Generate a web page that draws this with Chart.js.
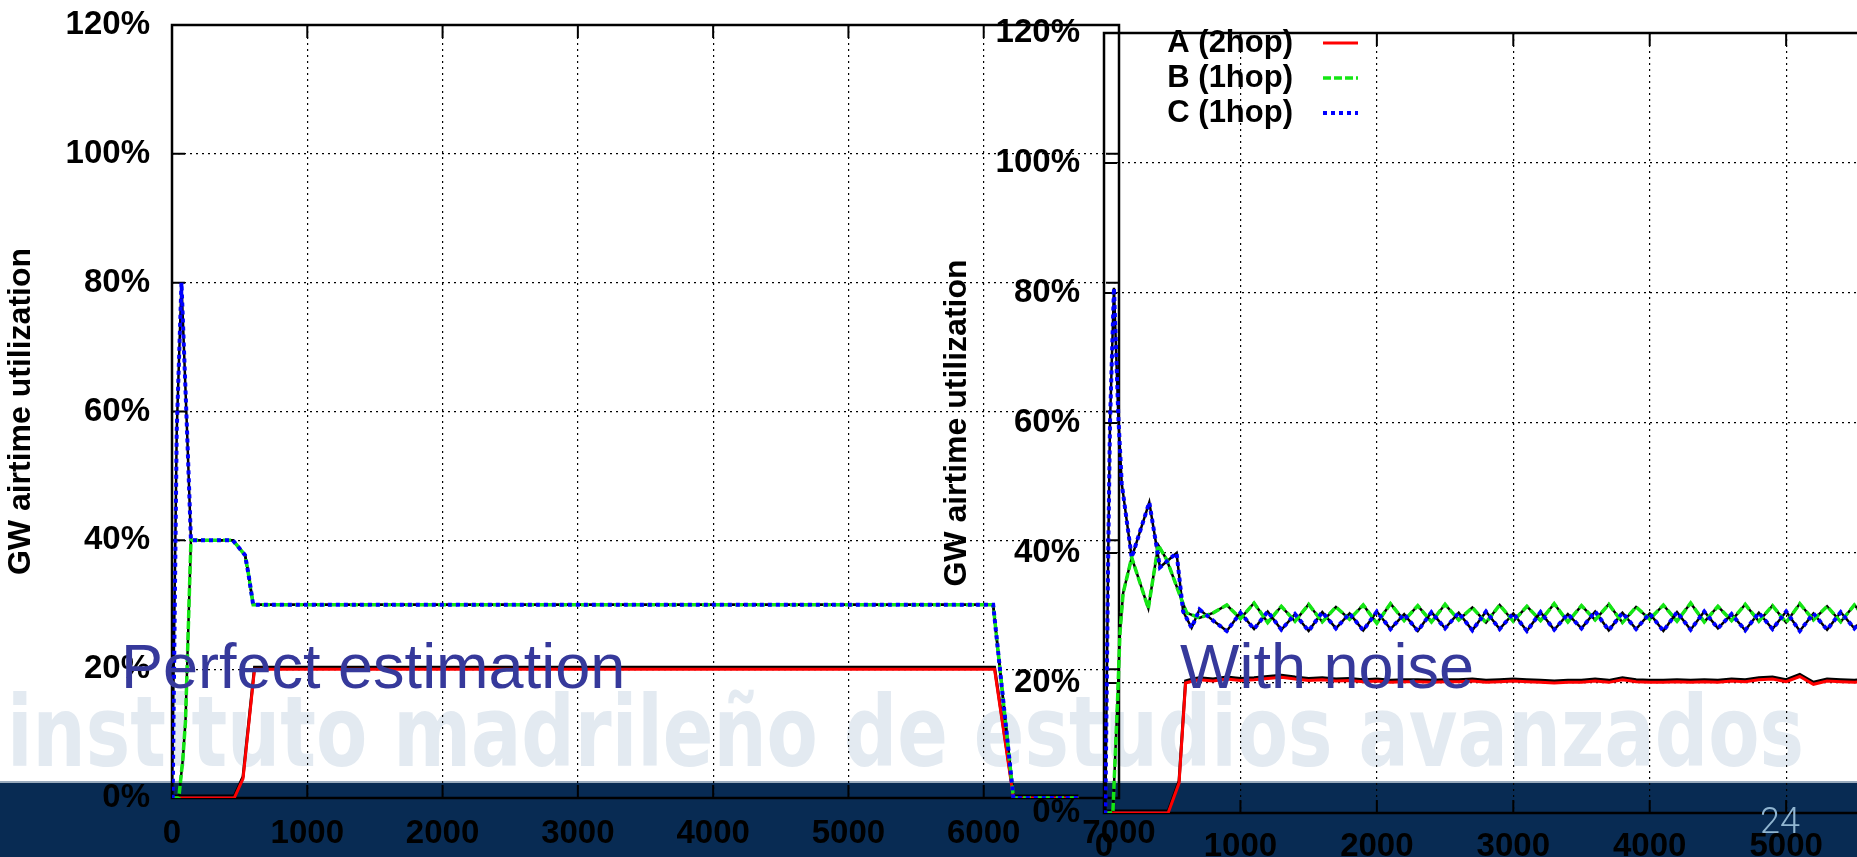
<!DOCTYPE html>
<html>
<head>
<meta charset="utf-8">
<script src="https://cdn.jsdelivr.net/npm/chart.js@4.4.0/dist/chart.umd.min.js"></script>
<style>
html,body{margin:0;padding:0;width:1857px;height:857px;overflow:hidden;background:#fff;}
body{position:relative;}
#band{position:absolute;left:0;top:781px;width:1857px;height:76px;background:#082b53;border-top:2px solid #9aabbd;box-sizing:border-box;}
#wm{position:absolute;left:7px;top:683px;font-family:"DejaVu Sans Condensed","DejaVu Sans",sans-serif;font-weight:bold;font-size:98px;line-height:1;color:#e3eaf1;white-space:nowrap;transform-origin:0 0;}
.wrap{position:absolute;top:0;height:857px;}
#w1{left:0;width:1200px;}
#w2{left:900px;width:1239px;}
.ov{position:absolute;font-family:"Liberation Sans",Arial,sans-serif;font-size:63px;line-height:1;color:#36399b;white-space:nowrap;}
#pg{position:absolute;left:1760px;top:803px;font-family:Roboto,"Liberation Sans",sans-serif;font-weight:300;font-size:36px;line-height:1;color:#90b5d0;}
</style>
</head>
<body>
<div id="wm">instituto madrileño de estudios avanzados</div>
<div id="band"></div>
<div class="wrap" id="w1"><canvas id="c1"></canvas></div>
<div class="wrap" id="w2"><canvas id="c2"></canvas></div>
<div class="ov" id="t1" style="left:121px;top:635px">Perfect estimation</div>
<div class="ov" id="t2" style="left:1180px;top:635px">With noise</div>
<div id="pg">24</div>
<script>
// ---------- labels ----------
const seriesLabels = ['A (2hop)', 'B (1hop)', 'C (1hop)'];
const yTitle = 'GW airtime utilization';
const xTickValues = [0, 1000, 2000, 3000, 4000, 5000, 6000, 7000];
const xTickLabels = ['0', '1000', '2000', '3000', '4000', '5000', '6000', '7000'];
const yTickValues = [0, 20, 40, 60, 80, 100, 120];
const yTickLabels = ['0%', '20%', '40%', '60%', '80%', '100%', '120%'];

// ---------- left chart: perfect estimation ----------
const leftTimeA = [0, 460, 525, 610, 1000, 2000, 3000, 4000, 5000, 6000, 6080, 6220, 6700];
const leftValA  = [0, 0, 3, 20, 20, 20, 20, 20, 20, 20, 20, 0, 0];
const leftTimeB = [0, 50, 80, 100, 140, 450, 540, 565, 600, 1000, 2000, 3000, 4000, 5000, 6000, 6070, 6220, 6700];
const leftValB  = [0, 0, 6, 12, 40, 40, 37.7, 34.8, 30, 30, 30, 30, 30, 30, 30, 30, 0, 0];
const leftTimeC = [0, 5, 35, 70, 113, 140, 450, 540, 565, 600, 1000, 2000, 3000, 4000, 5000, 6000, 6070, 6220, 6700];
const leftValC  = [0, 0, 57, 80, 56, 40, 40, 37.7, 34.8, 30, 30, 30, 30, 30, 30, 30, 30, 0, 0];

// ---------- right chart: with noise ----------
const rightEarlyTimeA = [0, 470, 550, 598, 650];
const rightEarlyValA  = [0, 0, 4.6, 20, 20.3];
const rightEarlyTimeB = [0, 65, 100, 117, 140, 203, 325, 398, 459, 569, 606];
const rightEarlyValB  = [0, 0, 17.7, 27.7, 33.8, 39.3, 31.5, 41.2, 39, 32.8, 30.8];
const rightEarlyTimeC = [0, 10, 31, 44, 73, 105, 130, 203, 332, 410, 532, 580, 642];
const rightEarlyValC  = [0, 0, 40, 60, 80.8, 61, 50.7, 39.3, 47.8, 37.8, 40, 31, 28.5];

const rightSteadyTime = [700,800,900,1000,1100,1200,1300,1400,1500,1600,1700,1800,1900,2000,2100,2200,2300,2400,2500,2600,2700,2800,2900,3000,3100,3200,3300,3400,3500,3600,3700,3800,3900,4000,4100,4200,4300,4400,4500,4600,4700,4800,4900,5000,5100,5200,5300,5400,5500,5600,5700,5800,5900,6000,6100,6200,6300,6400,6500,6600,6700,6800,6900,7000];
const rightSteadyA = [20.5,20.3,20.6,20.4,20.5,20.7,20.9,20.6,20.4,20.5,
                      20.3,20.4,20.2,20.3,20.1,20.2,20.2,20.1,20.2,20.2,
                      20.3,20.1,20.2,20.3,20.2,20.1,20.0,20.1,20.1,20.3,
                      20.1,20.5,20.2,20.1,20.1,20.2,20.1,20.2,20.1,20.3,
                      20.2,20.5,20.6,20.2,21.0,19.8,20.3,20.2,20.1,20.3,
                      20.2,20.1,20.4,20.2,20.3,20.1,20.2,20.4,20.1,20.2,
                      20.3,20.1,20.2,20.2];
const rightSteadyB = [30.0,30.8,32.0,29.9,32.3,29.3,31.8,29.5,32.1,29.4,
                      31.7,29.8,32.0,29.2,32.2,29.6,31.9,29.4,32.1,29.7,
                      31.6,29.3,32.0,29.5,31.8,29.6,32.2,29.4,31.9,29.7,
                      32.1,29.3,31.7,29.8,32.0,29.5,32.3,29.4,31.8,29.6,
                      32.1,29.5,31.9,29.3,32.2,29.7,31.8,29.4,32.0,29.6,
                      31.9,29.5,32.1,29.4,31.8,29.7,32.0,29.5,31.9,29.6,
                      32.2,29.4,31.8,29.8];
const rightSteadyC = [31.3,29.6,28.0,30.8,28.3,31.0,28.2,30.6,28.0,30.9,
                      28.4,30.7,28.1,31.0,28.3,30.6,28.0,30.9,28.4,30.8,
                      28.1,31.0,28.3,30.7,28.0,30.9,28.2,30.6,28.4,31.0,
                      28.1,30.8,28.3,30.7,28.0,30.9,28.2,31.0,28.4,30.6,
                      28.1,30.8,28.3,31.0,28.0,30.7,28.2,30.9,28.4,30.6,
                      28.1,30.8,28.0,31.0,28.3,30.7,28.1,30.9,28.2,30.6,
                      28.0,30.8,28.3,30.7];

// ---------- helpers ----------
const FONT = '"Liberation Sans", Arial, sans-serif';
const COLORS = ['#ff0000', '#14e614', '#0000ff'];
const DASHES = [[], [8, 3], [4, 4]];
const WIDTHS = [3, 3.5, 4];
function pts(xs, ys) { return xs.map((x, i) => ({x: x, y: ys[i]})); }

function buildDatasets(series) {
  const colored = series.map((s, i) => ({
    label: seriesLabels[i], data: s, showLine: true, borderColor: COLORS[i],
    borderWidth: WIDTHS[i], borderDash: DASHES[i], pointRadius: 0, tension: 0,
    order: 2 - i, fill: false
  }));
  const under = series.map((s, i) => ({
    label: '', data: s, showLine: true, borderColor: '#000', borderWidth: i === 0 ? 3 : 2.5,
    pointRadius: 0, tension: 0, order: 3 + i, shiftY: i === 0 ? -2 : 0, fill: false
  }));
  return colored.concat(under);
}

const framePlugin = {
  id: 'gpFrame',
  beforeDatasetsDraw(chart) {
    const ctx = chart.ctx, a = chart.chartArea, xs = chart.scales.x, ys = chart.scales.y;
    ctx.save();
    ctx.setLineDash([]);
    ctx.strokeStyle = '#000';
    ctx.lineWidth = 2.5;
    ctx.strokeRect(a.left, a.top, a.right - a.left, a.bottom - a.top);
    ctx.lineWidth = 2;
    ctx.beginPath();
    xs.ticks.forEach(t => {
      const p = xs.getPixelForValue(t.value);
      ctx.moveTo(p, a.bottom); ctx.lineTo(p, a.bottom - 13);
      ctx.moveTo(p, a.top); ctx.lineTo(p, a.top + 13);
    });
    ys.ticks.forEach(t => {
      const p = ys.getPixelForValue(t.value);
      ctx.moveTo(a.left, p); ctx.lineTo(a.left + 13, p);
      ctx.moveTo(a.right, p); ctx.lineTo(a.right - 13, p);
    });
    ctx.stroke();
    ctx.restore();
  }
};

const shiftPlugin = {
  id: 'gpShift',
  beforeDatasetDraw(chart, args) {
    const s = chart.data.datasets[args.index].shiftY;
    if (s) { chart.ctx.save(); chart.ctx.translate(0, s); }
  },
  afterDatasetDraw(chart, args) {
    if (chart.data.datasets[args.index].shiftY) chart.ctx.restore();
  }
};

const legendPlugin = {
  id: 'gpLegend',
  afterDatasetsDraw(chart, args, opts) {
    if (!opts || !opts.show) return;
    const ctx = chart.ctx;
    ctx.save();
    ctx.font = 'bold 31px ' + FONT;
    ctx.textAlign = 'right';
    ctx.textBaseline = 'middle';
    ctx.fillStyle = '#000';
    [0, 1, 2].forEach(r => {
      const ds = chart.data.datasets[r];
      const y = opts.y0 + r * opts.dy;
      ctx.fillText(ds.label, opts.textX, y);
      ctx.strokeStyle = ds.borderColor;
      ctx.lineWidth = ds.borderWidth;
      ctx.setLineDash(ds.borderDash || []);
      ctx.beginPath();
      ctx.moveTo(opts.x1, y); ctx.lineTo(opts.x2, y);
      ctx.stroke();
    });
    ctx.restore();
  }
};

function makeChart(id, series, g, legendOpts) {
  return new Chart(document.getElementById(id), {
    type: 'scatter',
    data: { datasets: buildDatasets(series) },
    plugins: [framePlugin, shiftPlugin, legendPlugin],
    options: {
      responsive: true, maintainAspectRatio: false, animation: false, devicePixelRatio: 1,
      layout: { autoPadding: false, padding: { left: 0, top: g.padTop, right: g.padRight, bottom: 0 } },
      plugins: { legend: { display: false }, title: { display: false }, tooltip: { enabled: false }, gpLegend: legendOpts },
      scales: {
        x: {
          type: 'linear', position: 'bottom', min: 0, max: 7000,
          afterBuildTicks: s => { s.ticks = xTickValues.map(v => ({ value: v })); },
          ticks: { autoSkip: false, maxRotation: 0, minRotation: 0, padding: 0, color: '#000',
                   font: { family: FONT, size: 33, weight: 'bold' },
                   callback: v => xTickLabels[xTickValues.indexOf(v)] },
          grid: { color: '#000', lineWidth: 1.2, drawTicks: true, tickLength: g.xTick, tickColor: 'rgba(0,0,0,0)' },
          border: { display: false, dash: [2, 4] },
          afterFit: s => { s.height = g.xAxisH; }
        },
        y: {
          type: 'linear', position: 'left', min: 0, max: 120,
          afterBuildTicks: s => { s.ticks = yTickValues.map(v => ({ value: v })); },
          ticks: { padding: 0, color: '#000',
                   font: { family: FONT, size: 33, weight: 'bold' },
                   callback: v => yTickLabels[yTickValues.indexOf(v)] },
          grid: { color: '#000', lineWidth: 1.2, drawTicks: true, tickLength: g.yTick, tickColor: 'rgba(0,0,0,0)' },
          border: { display: false, dash: [2, 4] },
          title: { display: true, text: yTitle, color: '#000',
                   font: { family: FONT, size: 32, weight: 'bold' },
                   padding: { top: g.titlePad, bottom: 0 } },
          afterFit: s => { s.width = g.yAxisW; }
        }
      }
    }
  });
}

const g1 = { padTop: 25, padRight: 81, yAxisW: 172, xAxisH: 59, xTick: 16, yTick: 22, titlePad: 2 };
const g2 = { padTop: 33, padRight: 80, yAxisW: 204, xAxisH: 44, xTick: 14, yTick: 24, titlePad: 38 };

makeChart('c1',
  [pts(leftTimeA, leftValA), pts(leftTimeB, leftValB), pts(leftTimeC, leftValC)],
  g1, { show: false });

makeChart('c2',
  [pts(rightEarlyTimeA.concat(rightSteadyTime), rightEarlyValA.concat(rightSteadyA)),
   pts(rightEarlyTimeB.concat(rightSteadyTime), rightEarlyValB.concat(rightSteadyB)),
   pts(rightEarlyTimeC.concat(rightSteadyTime), rightEarlyValC.concat(rightSteadyC))],
  g2, { show: true, y0: 43, dy: 35, textX: 393, x1: 423, x2: 458 });

// fit watermark to its band
const wm = document.getElementById('wm');
const w = wm.getBoundingClientRect().width;
wm.style.transform = 'scaleX(' + (1797 / w) + ')';
</script>
</body>
</html>
